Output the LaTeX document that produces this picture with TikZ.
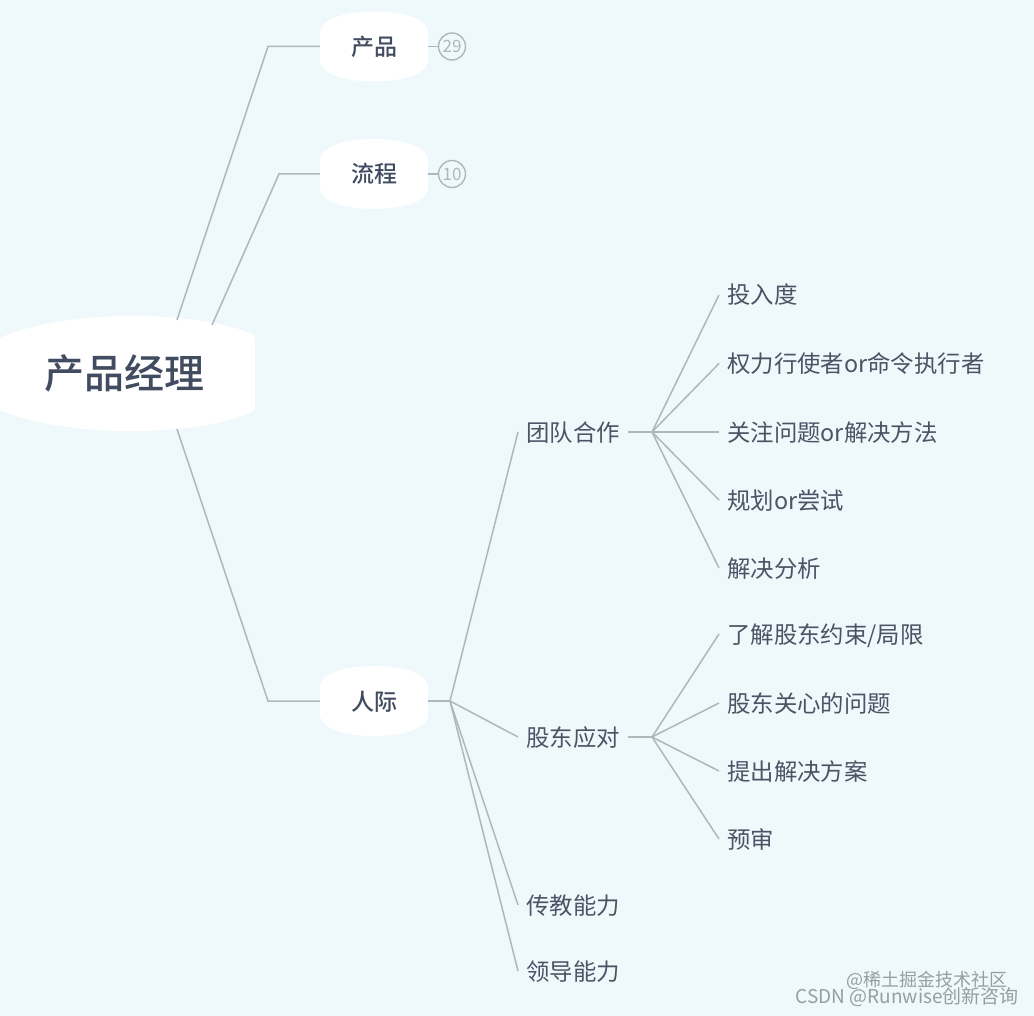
\documentclass[tikz,border=0pt]{standalone}
\usepackage{fontspec}
\setmainfont[BoldFont={Noto Sans CJK SC Medium}]{Noto Sans CJK SC}
\definecolor{paper}{HTML}{EFF8FB}
\definecolor{ink}{HTML}{4A5465}
\definecolor{inkdark}{HTML}{424C60}
\definecolor{branch}{HTML}{AEB7BE}
\definecolor{mark}{HTML}{969EA4}
\tikzset{
  rootnode/.style={font=\fontsize{40}{40}\selectfont\bfseries, text=inkdark, inner sep=0pt},
  topicnode/.style={font=\fontsize{23}{23}\selectfont\bfseries, text=inkdark, minimum width=108pt, text height=19pt, text depth=1pt, inner sep=0pt},
  subnode/.style={font=\fontsize{23.4}{24}\selectfont, text=ink, anchor=west, inner xsep=8pt, inner ysep=0pt, text height=19pt, text depth=1pt},
  badge/.style={draw=branch, line width=1.4pt, circle, minimum size=27pt, inner sep=0pt, text=branch, font=\fontsize{17}{17}\selectfont},
  link/.style={draw=branch, line width=1.5pt},
  blob/.style={fill=white},
  markline/.style={text=mark, anchor=east, inner sep=0pt}
}
\newcommand{\topicblob}[1]{%
  \fill[blob, shift={(#1)}] (-54,-16) .. controls (-50,-28) and (-30,-35) .. (0,-35)
    .. controls (30,-35) and (50,-28) .. (54,-16)
    -- (54,16) .. controls (50,28) and (30,35) .. (0,35)
    .. controls (-30,35) and (-50,28) .. (-54,16) -- cycle;}
\begin{document}
\begin{tikzpicture}[x=1pt, y=-1pt]
  \fill[paper] (0,0) rectangle (1034,1016);
  \useasboundingbox (0,0) rectangle (1034,1016);

  % white blobs
  \fill[blob] (-5,340) .. controls (60,309) and (190,309) .. (250,333)
    .. controls (253,335) and (255,337) .. (255,340)
    -- (255,406) .. controls (255,410) and (253,412) .. (250,413)
    .. controls (190,438) and (60,438) .. (-5,408) -- cycle;
  \topicblob{374,46.5}
  \topicblob{374,174}
  \topicblob{374,701}

  \node[rootnode] (root) at (125,373.5) {产品经理};
  \node[topicnode] (product) at (374,46.5) {产品};
  \node[topicnode] (flow) at (374,174) {流程};
  \node[topicnode] (people) at (374,701) {人际};
  \node[badge] (n29) at (452,46.5) {29};
  \node[badge] (n10) at (452,174) {10};

  \node[subnode] (team) at (518,432) {团队合作};
  \node[subnode] (holder) at (518,737) {股东应对};
  \node[subnode] (teach) at (518,905) {传教能力};
  \node[subnode] (lead) at (518,971) {领导能力};

  \node[subnode] (t1) at (719,295) {投入度};
  \node[subnode] (t2) at (719,363.5) {权力行使者or命令执行者};
  \node[subnode] (t3) at (719,432) {关注问题or解决方法};
  \node[subnode] (t4) at (719,500) {规划or尝试};
  \node[subnode] (t5) at (719,568) {解决分析};
  \node[subnode] (h1) at (719,634) {了解股东约束/局限};
  \node[subnode] (h2) at (719,703) {股东关心的问题};
  \node[subnode] (h3) at (719,771) {提出解决方案};
  \node[subnode] (h4) at (719,839) {预审};

  \node[markline, font=\fontsize{18}{18}\selectfont] (mark1) at (1008,980) {@稀土掘金技术社区};
  \node[markline, font=\fontsize{19}{19}\selectfont] (mark2) at (1019,997) {CSDN @Runwise创新咨询};

  % junctions
  \coordinate (rootA) at (177,320);
  \coordinate (rootB) at (212,325);
  \coordinate (rootC) at (177,429);
  \coordinate (elbowA) at (268,46.5);
  \coordinate (elbowB) at (279,174);
  \coordinate (elbowC) at (268,701);
  \coordinate (hub) at (450,701);
  \coordinate (teamhub) at (652,432);
  \coordinate (holderhub) at (652,737);

  \draw[link] (rootA) -- (elbowA) -- (product.west);
  \draw[link] (rootB) -- (elbowB) -- (flow.west);
  \draw[link] (rootC) -- (elbowC) -- (people.west);
  \draw[link] (product.east) -- (n29.west);
  \draw[link] (flow.east) -- (n10.west);

  \draw[link] (people.east) -- (hub);
  \draw[link] (hub) -- (team.west);
  \draw[link] (hub) -- (holder.west);
  \draw[link] (hub) -- (teach.west);
  \draw[link] (hub) -- (lead.west);

  \draw[link] (team.east) -- (teamhub);
  \draw[link] (teamhub) -- (t1.west);
  \draw[link] (teamhub) -- (t2.west);
  \draw[link] (teamhub) -- (t3.west);
  \draw[link] (teamhub) -- (t4.west);
  \draw[link] (teamhub) -- (t5.west);

  \draw[link] (holder.east) -- (holderhub);
  \draw[link] (holderhub) -- (h1.west);
  \draw[link] (holderhub) -- (h2.west);
  \draw[link] (holderhub) -- (h3.west);
  \draw[link] (holderhub) -- (h4.west);
\end{tikzpicture}
\end{document}
